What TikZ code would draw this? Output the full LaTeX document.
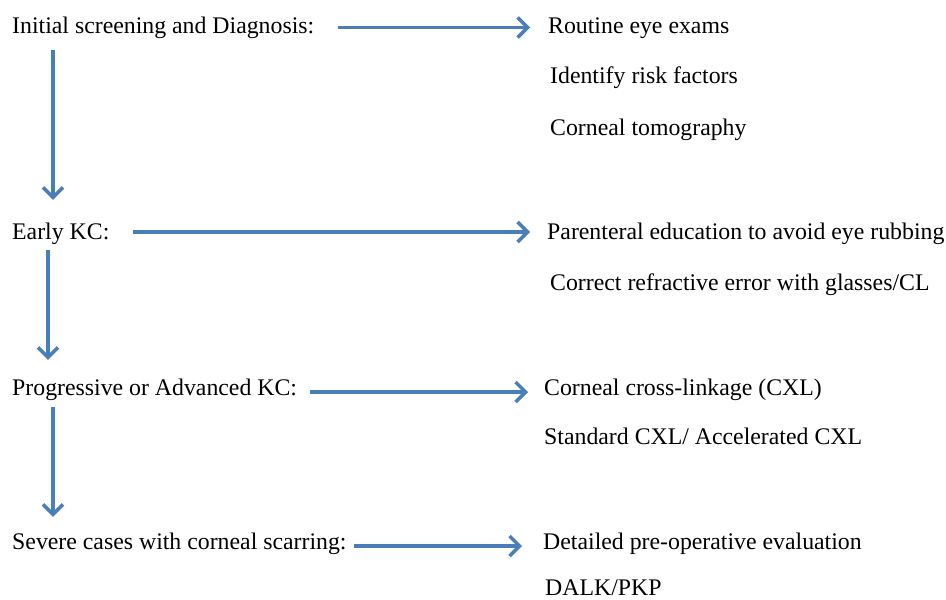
\documentclass[tikz,border=0pt]{standalone}
\usepackage{fontspec}
\setmainfont{Liberation Serif}
\usetikzlibrary{arrows.meta}
\definecolor{arrowblue}{HTML}{4A7EBB}
\begin{document}
\begin{tikzpicture}[x=1pt,y=-1pt,
  lbl/.style={anchor=base west,inner sep=0pt,text height=16pt,text depth=5pt,
    font=\fontsize{23.8}{28}\selectfont},
  flow/.style={draw=arrowblue,line width=3.5pt,
    -{Straight Barb[length=10pt,width=20pt,line width=3.5pt]}}]
\useasboundingbox (0,0) rectangle (946,600);
% left column
\node[lbl] (a1) at (12,33) {Initial screening and Diagnosis:};
\node[lbl] (a2) at (12,239) {Early KC:};
\node[lbl] (a3) at (12,395) {Progressive or Advanced KC:};
\node[lbl] (a4) at (12,549) {Severe cases with corneal scarring:};
% right column
\node[lbl] (r1) at (548,33) {Routine eye exams};
\node[lbl] (r1b) at (550,83) {Identify risk factors};
\node[lbl] (r1c) at (550,135) {Corneal tomography};
\node[lbl] (r2) at (547,239) {Parenteral education to avoid eye rubbing};
\node[lbl] (r2b) at (550,290) {Correct refractive error with glasses/CL};
\node[lbl] (r3) at (544,395) {Corneal cross-linkage (CXL)};
\node[lbl] (r3b) at (544,444) {Standard CXL/ Accelerated CXL};
\node[lbl] (r4) at (543,549) {Detailed pre-operative evaluation};
\node[lbl] (r4b) at (545,595) {DALK/PKP};
% horizontal arrows
\draw[flow] ([xshift=24pt]a1.east) -- ([xshift=-18pt]r1.west);
\draw[flow] ([xshift=23pt,yshift=1.5pt]a2.east) -- ([xshift=-17pt,yshift=1.5pt]r2.west);
\draw[flow] ([xshift=13pt,yshift=-2.5pt]a3.east) -- ([xshift=-16pt,yshift=-2.5pt]r3.west);
\draw[flow] ([xshift=7pt,yshift=-2.5pt]a4.east) -- ([xshift=-21pt,yshift=-2.5pt]r4.west);
% vertical arrows
\draw[flow] ([xshift=41pt,yshift=-12pt]a1.south west) -- ([xshift=41pt,yshift=23pt]a2.north west);
\draw[flow] ([xshift=36pt,yshift=-6pt]a2.south west) -- ([xshift=36pt,yshift=19pt]a3.north west);
\draw[flow] ([xshift=41pt,yshift=-7pt]a3.south west) -- ([xshift=41pt,yshift=16pt]a4.north west);
\end{tikzpicture}
\end{document}
